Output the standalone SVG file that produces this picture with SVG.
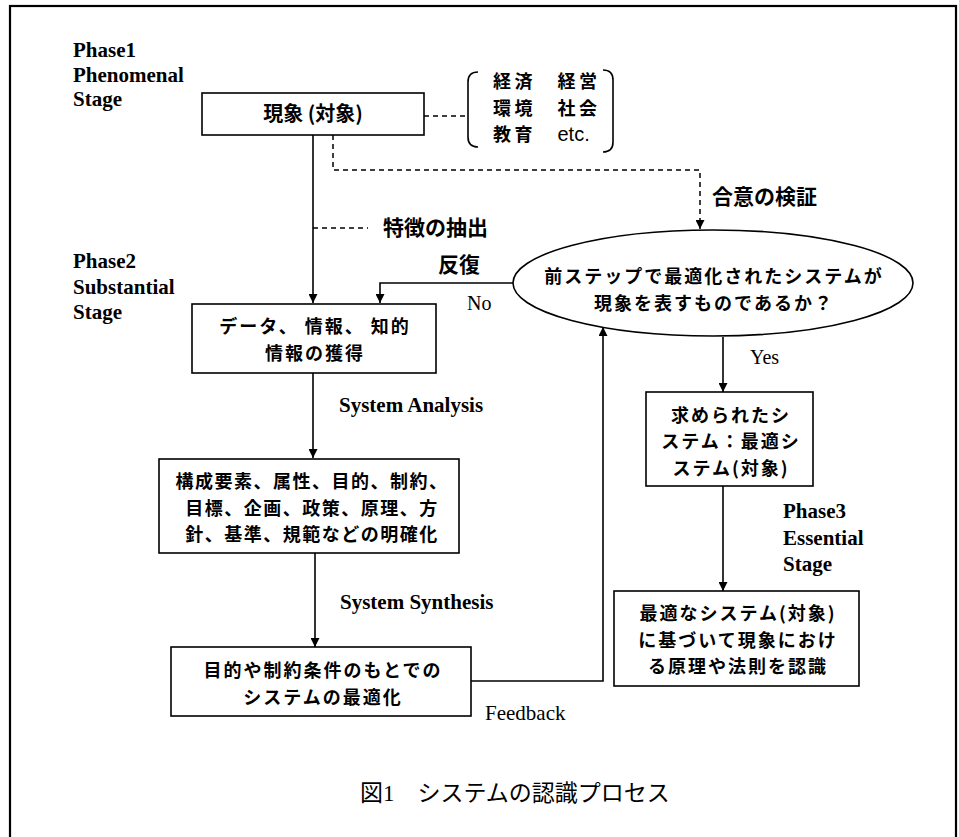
<svg xmlns="http://www.w3.org/2000/svg" width="959" height="837" viewBox="0 0 959 837">
<style>
.box{fill:#fff;stroke:#000;stroke-width:1.6}
.ln{fill:none;stroke:#000;stroke-width:1.6}
.dash{fill:none;stroke:#000;stroke-width:1.5;stroke-dasharray:5 4}
.jp{font-family:"Noto Sans CJK JP","Noto Sans",sans-serif;font-weight:bold;font-size:18px;letter-spacing:2px;fill:#000}
.lab{font-family:"Noto Sans CJK JP","Noto Sans",sans-serif;font-weight:bold;font-size:21px;fill:#000}
.en{font-family:"Liberation Serif",serif;font-weight:bold;font-size:21px;fill:#000}
.enr{font-family:"Liberation Serif",serif;font-size:21px;fill:#000}
.c{text-anchor:middle}
</style>
<defs>
<marker id="ah" viewBox="0 0 10 10" refX="10" refY="5" markerWidth="9" markerHeight="9" markerUnits="userSpaceOnUse" orient="auto">
<path d="M0,0 L10,5 L0,10 z" fill="#000"/>
</marker>
</defs>
<rect x="10" y="6" width="946" height="840" fill="none" stroke="#000" stroke-width="2.2"/>

<g id="phase-labels">
<text class="en" x="73" y="57">Phase1</text>
<text class="en" x="73" y="82">Phenomenal</text>
<text class="en" x="73" y="106">Stage</text>
<text class="en" x="73" y="268">Phase2</text>
<text class="en" x="73" y="294">Substantial</text>
<text class="en" x="73" y="319">Stage</text>
<text class="en" x="783" y="518">Phase3</text>
<text class="en" x="783" y="545">Essential</text>
<text class="en" x="783" y="571">Stage</text>
</g>

<g id="connectors">
<line class="ln" x1="313" y1="135" x2="313" y2="303" marker-end="url(#ah)"/>
<line class="dash" x1="313" y1="228" x2="368" y2="228"/>
<line class="dash" x1="424" y1="116" x2="468" y2="116"/>
<polyline class="dash" points="333,135 333,170 700,170 700,229" marker-end="url(#ah)"/>
<polyline class="ln" points="513,283 380,283 380,303" marker-end="url(#ah)"/>
<line class="ln" x1="313" y1="373" x2="313" y2="458" marker-end="url(#ah)"/>
<line class="ln" x1="315" y1="553" x2="315" y2="647" marker-end="url(#ah)"/>
<polyline class="ln" points="471,681 603,681 603,327" marker-end="url(#ah)"/>
<line class="ln" x1="723" y1="337" x2="723" y2="392" marker-end="url(#ah)"/>
<line class="ln" x1="723" y1="486" x2="723" y2="591" marker-end="url(#ah)"/>
</g>

<g id="connector-labels">
<text class="lab" x="383" y="235">特徴の抽出</text>
<text class="lab" x="712" y="204">合意の検証</text>
<text class="lab" x="438" y="272">反復</text>
<text class="enr" x="467" y="310" style="font-size:20px">No</text>
<text class="enr" x="750" y="364" style="font-size:20px">Yes</text>
<text class="en" x="339" y="412">System Analysis</text>
<text class="en" x="340" y="609">System Synthesis</text>
<text class="enr" x="485" y="720">Feedback</text>
</g>

<g id="node-phenomenon">
<rect class="box" x="202" y="93" width="222" height="42"/>
<text class="lab c" x="313" y="121" style="font-size:20px">現象 (対象)</text>
</g>

<g id="node-domains">
<path class="ln" d="M478,72 Q468,72 468,82 L468,137 Q468,147 478,147"/>
<path class="ln" d="M603,70 Q613,70 613,80 L613,142 Q613,152 603,152"/>
<text class="jp" x="493" y="88" style="letter-spacing:3.5px">経済　経営</text>
<text class="jp" x="493" y="114.5" style="letter-spacing:3.5px">環境　社会</text>
<text class="jp" x="493" y="141" style="letter-spacing:3.5px">教育　<tspan style="font-family:'Liberation Sans',sans-serif;font-weight:normal;font-size:20px;letter-spacing:0">etc.</tspan></text>
</g>

<g id="node-data">
<rect class="box" x="192" y="304" width="244" height="69"/>
<text class="jp c" x="315" y="333">データ、 情報、 知的</text>
<text class="jp c" x="315" y="359.5">情報の獲得</text>
</g>

<g id="node-clarify">
<rect class="box" x="159" y="459" width="300" height="94"/>
<text class="jp c" x="312" y="488" style="letter-spacing:1.5px">構成要素、属性、目的、制約、</text>
<text class="jp c" x="312" y="514.5" style="letter-spacing:1.5px">目標、企画、政策、原理、方</text>
<text class="jp c" x="312" y="541" style="letter-spacing:1.5px">針、基準、規範などの明確化</text>
</g>

<g id="node-optimize">
<rect class="box" x="171" y="647" width="300" height="69"/>
<text class="jp c" x="323" y="676.5">目的や制約条件のもとでの</text>
<text class="jp c" x="323" y="703.5">システムの最適化</text>
</g>

<g id="node-check">
<ellipse class="box" cx="713" cy="283" rx="200" ry="53"/>
<text class="jp c" x="714" y="283">前ステップで最適化されたシステムが</text>
<text class="jp c" x="714" y="309.5">現象を表すものであるか？</text>
</g>

<g id="node-found">
<rect class="box" x="646" y="392" width="167" height="94"/>
<text class="jp c" x="731" y="421.5">求められたシ</text>
<text class="jp c" x="731" y="448">ステム：最適シ</text>
<text class="jp c" x="731" y="474.5">ステム(対象)</text>
</g>

<g id="node-recognize">
<rect class="box" x="614" y="591" width="245" height="95"/>
<text class="jp c" x="738" y="620">最適なシステム(対象)</text>
<text class="jp c" x="738" y="646.5">に基づいて現象におけ</text>
<text class="jp c" x="738" y="673">る原理や法則を認識</text>
</g>

<g id="caption">
<text x="360" y="801" style="font-family:'Noto Sans CJK JP','Noto Sans',sans-serif;font-size:23px;fill:#000">図<tspan style="font-family:'Liberation Serif',serif">1</tspan>　システムの認識プロセス</text>
</g>
</svg>
